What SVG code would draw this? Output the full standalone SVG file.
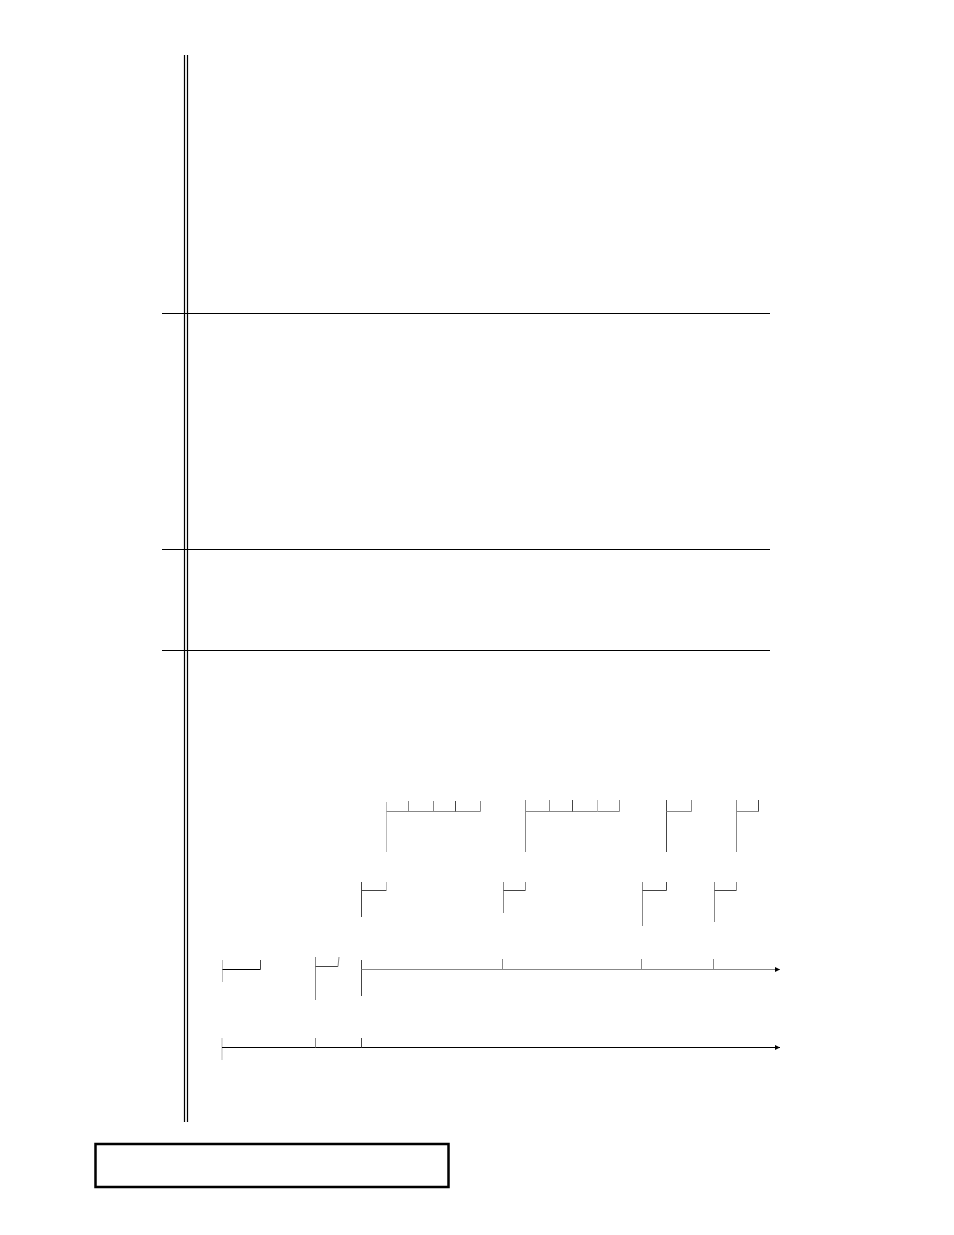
<svg xmlns="http://www.w3.org/2000/svg" width="954" height="1235" viewBox="0 0 954 1235">
<style>
.k{stroke:#000;stroke-width:1.2;fill:none}
.g{stroke:#888;stroke-width:1;fill:none}
.d{stroke:#444;stroke-width:1;fill:none}
.l{stroke:#bbb;stroke-width:1;fill:none}
</style>
<defs>
<marker id="ah" markerWidth="6" markerHeight="6" refX="5" refY="3" orient="auto" markerUnits="userSpaceOnUse">
<path d="M0,0.5 L5,3 L0,5.5 z" fill="#000"/>
</marker>
</defs>
<rect width="954" height="1235" fill="#fff"/>
<g id="frame">
<line class="k" x1="184.5" y1="55" x2="184.5" y2="1122"/>
<line class="k" x1="187.5" y1="55" x2="187.5" y2="1122"/>
<line class="k" x1="162" y1="313.5" x2="770" y2="313.5"/>
<line class="k" x1="162" y1="549.5" x2="770" y2="549.5"/>
<line class="k" x1="162" y1="650.5" x2="770" y2="650.5"/>
</g>
<g id="box">
<rect x="95.5" y="1144" width="353" height="43" fill="none" stroke="#000" stroke-width="2.5"/>
</g>
<g id="connectors">
<!-- row 1 -->
<line class="l" x1="386.5" y1="802" x2="386.5" y2="852"/>
<line class="g" x1="386.5" y1="811.5" x2="480.5" y2="811.5"/>
<line class="g" x1="408.5" y1="801" x2="408.5" y2="811.5"/>
<line class="g" x1="433.5" y1="801" x2="433.5" y2="811.5"/>
<line class="d" x1="455.5" y1="801" x2="455.5" y2="811.5"/>
<line class="g" x1="480.5" y1="801" x2="480.5" y2="811.5"/>

<line class="g" x1="525.5" y1="800" x2="525.5" y2="852"/>
<line class="g" x1="525.5" y1="811.5" x2="619.5" y2="811.5"/>
<line class="g" x1="549.5" y1="800" x2="549.5" y2="811.5"/>
<line class="d" x1="572.5" y1="800" x2="572.5" y2="811.5"/>
<line class="l" x1="597.5" y1="800" x2="597.5" y2="811.5"/>
<line class="g" x1="619.5" y1="800" x2="619.5" y2="811.5"/>

<line class="d" x1="666.5" y1="800" x2="666.5" y2="852"/>
<line class="g" x1="666.5" y1="811.5" x2="691.5" y2="811.5"/>
<line class="g" x1="691.5" y1="800" x2="691.5" y2="811.5"/>

<line class="g" x1="736.5" y1="800" x2="736.5" y2="852"/>
<line class="g" x1="736.5" y1="811.5" x2="758.5" y2="811.5"/>
<line class="d" x1="758.5" y1="800" x2="758.5" y2="811.5"/>
<!-- row 2 -->
<line class="d" x1="361.5" y1="882" x2="361.5" y2="917"/>
<line class="d" x1="361.5" y1="890.5" x2="386.5" y2="890.5"/>
<line class="l" x1="386.5" y1="882" x2="386.5" y2="890.5"/>

<line class="g" x1="503.5" y1="882" x2="503.5" y2="913"/>
<line class="d" x1="503.5" y1="890.5" x2="525.5" y2="890.5"/>
<line class="g" x1="525.5" y1="882" x2="525.5" y2="890.5"/>

<line class="g" x1="642.5" y1="882" x2="642.5" y2="926"/>
<line class="d" x1="642.5" y1="890.5" x2="666.5" y2="890.5"/>
<line class="d" x1="666.5" y1="882" x2="666.5" y2="890.5"/>

<line class="g" x1="714.5" y1="882" x2="714.5" y2="922"/>
<line class="d" x1="714.5" y1="890.5" x2="736.5" y2="890.5"/>
<line class="g" x1="736.5" y1="882" x2="736.5" y2="890.5"/>
<!-- row 3 -->
<line class="l" x1="222.5" y1="960" x2="222.5" y2="982"/>
<line class="k" x1="222.5" y1="969.5" x2="260.5" y2="969.5"/>
<line class="d" x1="260.5" y1="960" x2="260.5" y2="969.5"/>

<line class="g" x1="315.5" y1="957" x2="315.5" y2="1000"/>
<line class="d" x1="315.5" y1="966.5" x2="338" y2="966.5"/>
<line class="g" x1="339" y1="957" x2="338" y2="966.5"/>

<line class="d" x1="361.5" y1="960" x2="361.5" y2="996"/>
<line class="g" x1="361.5" y1="969.5" x2="780" y2="969.5" marker-end="url(#ah)"/>
<line class="g" x1="502.5" y1="959" x2="502.5" y2="969.5"/>
<line class="g" x1="641.5" y1="959" x2="641.5" y2="969.5"/>
<line class="g" x1="713.5" y1="959" x2="713.5" y2="969.5"/>
<!-- row 4 -->
<line class="l" x1="222" y1="1038" x2="222" y2="1060" stroke-width="1.5"/>
<line class="k" x1="222" y1="1047.5" x2="780" y2="1047.5" marker-end="url(#ah)"/>
<line class="g" x1="315.5" y1="1038" x2="315.5" y2="1047.5"/>
<line class="d" x1="361.5" y1="1038" x2="361.5" y2="1047.5"/>
</g>
</svg>
